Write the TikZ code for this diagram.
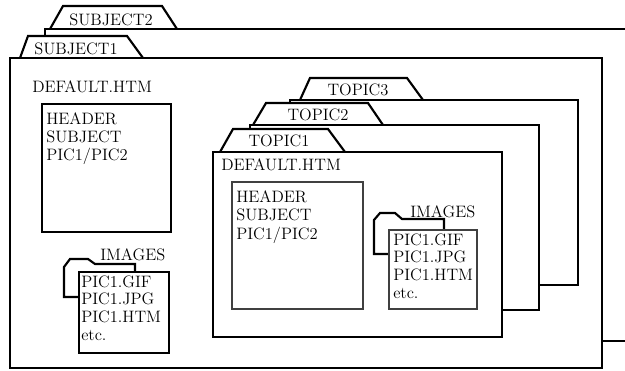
\documentclass[tikz,border=0pt]{standalone}
\usepackage{fontspec}
\tikzset{
  folder/.style={draw, line width=1.6pt, fill=white},
  sheet/.style={draw, line width=1.6pt, fill=white},
  thinsheet/.style={draw=black!75, line width=0.8pt, fill=white},
  backtab/.style={draw, line width=1.6pt, fill=white},
  txt/.style={anchor=base west, inner sep=0pt},
  tabtxt/.style={anchor=base, inner sep=0pt}
}
\begin{document}
\begin{tikzpicture}[x=0.75pt, y=-0.75pt, font=\fontsize{12.4}{15}\selectfont]
  \useasboundingbox (0,0) rectangle (625,371);
  \clip (0,0) rectangle (625,371);

  % subject folders
  \draw[folder] (50,29) -- (63,6) -- (162,6) -- (177,29);
  \draw[folder] (45,29) rectangle (640,341);
  \node[tabtxt] (subject2) at (111,25) {SUBJECT2};

  \draw[folder] (20,58) -- (28,36) -- (127,36) -- (143,58);
  \draw[folder] (10,58) rectangle (602,368);
  \node[tabtxt] (subject1) at (76,54) {SUBJECT1};
  \node[txt] (default1) at (32,92) {DEFAULT.HTM};

  % page of subject 1
  \draw[sheet] (42,104) rectangle (171,232);
  \foreach \t [count=\i from 0] in {HEADER,SUBJECT,{PIC1/PIC2}}
    \node[txt] (head1-\i) at (46,124+18*\i) {\t};

  % images of subject 1
  \draw[backtab] (79,297) -- (64,297) -- (64,267) -- (70,259) -- (88,259) -- (95,264) -- (135,264) -- (135,272);
  \node[txt] (images1) at (100,260) {IMAGES};
  \draw[sheet] (79,272) rectangle (169,353);
  \foreach \t [count=\i from 0] in {PIC1.GIF,PIC1.JPG,PIC1.HTM,etc.}
    \node[txt] (img1-\i) at (81,287+17.7*\i) {\t};

  % topic folders
  \draw[folder] (300,100) -- (310,78) -- (407,78) -- (423,100);
  \draw[folder] (290,100) rectangle (578,285);
  \node[tabtxt] (topic3) at (358,95) {TOPIC3};

  \draw[folder] (253,125) -- (266,103) -- (368,103) -- (383,125);
  \draw[folder] (250,125) rectangle (539,310);
  \node[tabtxt] (topic2) at (318,120) {TOPIC2};

  \draw[folder] (220,152) -- (233,129) -- (328,129) -- (345,152);
  \draw[folder] (213,152) rectangle (502,337);
  \node[tabtxt] (topic1) at (279,146) {TOPIC1};
  \node[txt] (default2) at (221,170) {DEFAULT.HTM};

  % page of topic 1
  \draw[thinsheet] (232,182) rectangle (363,309);
  \foreach \t [count=\i from 0] in {HEADER,SUBJECT,{PIC1/PIC2}}
    \node[txt] (head2-\i) at (236,202+18.5*\i) {\t};

  % images of topic 1
  \draw[backtab] (389,254) -- (374,254) -- (374,220) -- (380,213) -- (395,213) -- (402,219) -- (444,219) -- (444,230);
  \node[txt] (images2) at (410,217) {IMAGES};
  \draw[thinsheet] (389,230) rectangle (477,309);
  \foreach \t [count=\i from 0] in {PIC1.GIF,PIC1.JPG,PIC1.HTM,etc.}
    \node[txt] (img2-\i) at (393,245+17.7*\i) {\t};
\end{tikzpicture}
\end{document}
